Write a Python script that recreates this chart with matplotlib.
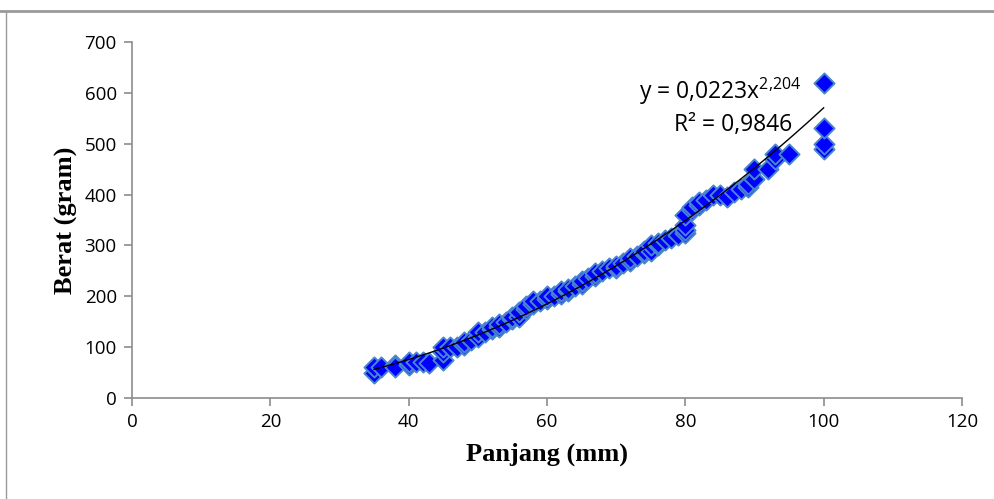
import numpy as np
import matplotlib.pyplot as plt
from matplotlib.lines import Line2D

plt.rcParams['mathtext.fontset'] = 'custom'
plt.rcParams['mathtext.rm'] = 'Open Sans'

# data (panjang mm, berat gram)
panjang = [35, 35, 36, 38, 38, 40, 40, 41, 42, 43, 45, 45, 45, 46, 47, 48, 48, 49,
           50, 50, 51, 52, 52, 53, 53, 54, 55, 55, 56, 56, 57, 57, 58, 58, 59,
           60, 60, 61, 62, 62, 63, 63, 64, 65, 65, 66, 67, 67, 68, 69, 70, 70,
           71, 72, 72, 73, 74, 74, 75, 75, 76, 76, 77, 78, 79, 80, 80, 80, 80,
           81, 81, 82, 82, 83, 84, 85, 86, 87, 88, 89, 89, 90, 90, 92, 93, 93,
           95, 100, 100, 100, 100]
berat = [50, 60, 60, 65, 60, 65, 70, 70, 70, 68, 75, 90, 100, 100, 100, 105, 110, 115,
         120, 130, 130, 135, 140, 140, 145, 150, 155, 160, 160, 170, 175, 180, 185, 190, 190,
         195, 200, 200, 205, 210, 210, 215, 220, 225, 230, 235, 240, 245, 250, 255, 255, 260,
         265, 270, 275, 280, 285, 290, 290, 300, 300, 305, 310, 315, 320, 325, 330, 340, 360,
         370, 375, 380, 385, 390, 400, 400, 395, 405, 410, 415, 420, 430, 450, 450, 470, 480,
         480, 490, 500, 530, 620]

# power trendline as printed on the chart
coef_a = 0.0223
coef_b = 2.204
r2_text = 'R² = 0,9846'
eq_text = r'y = 0,0223x$^{\mathrm{2{,}204}}$'

fig = plt.figure(figsize=(9.95, 4.99), dpi=100)
ax = fig.add_axes([0.1327, 0.2024, 0.8341, 0.7134])

ax.scatter(panjang, berat, marker='D', s=105, facecolor='#0000ff',
           edgecolor='#4a86d0', linewidths=1.4, zorder=3)

xs = np.linspace(min(panjang), max(panjang), 200)
ax.plot(xs, coef_a * xs ** coef_b, color='black', lw=1, zorder=4)

ax.set_xlim(0, 120)
ax.set_ylim(0, 700)
ax.set_xticks(range(0, 121, 20))
ax.set_yticks(range(0, 701, 100))

for s in ['top', 'right']:
    ax.spines[s].set_visible(False)
for s in ['left', 'bottom']:
    ax.spines[s].set_color('#8c8c8c')
    ax.spines[s].set_linewidth(1.2)
ax.tick_params(direction='out', length=6, color='#8c8c8c', width=1.2,
               labelsize=13.5, pad=5)
for lab in ax.get_xticklabels() + ax.get_yticklabels():
    lab.set_fontfamily('Open Sans')

ax.set_xlabel('Panjang (mm)', fontsize=19, fontweight='bold',
              fontfamily='Liberation Serif', labelpad=8)
ax.set_ylabel('Berat (gram)', fontsize=19, fontweight='bold',
              fontfamily='Liberation Serif', labelpad=5)

ax.text(0.724, 0.816, eq_text, transform=fig.transFigure, fontsize=16.5,
        fontfamily='Open Sans', ha='center', va='center')
ax.text(0.737, 0.749, r2_text, transform=fig.transFigure, fontsize=16.5,
        fontfamily='Open Sans', ha='center', va='center')

# window frame lines
fig.add_artist(Line2D([0, 1], [1 - 11 / 499, 1 - 11 / 499], color='#9a9a9a', lw=2,
                      transform=fig.transFigure))
fig.add_artist(Line2D([6 / 995, 6 / 995], [0, 1 - 12 / 499], color='#9a9a9a', lw=1,
                      transform=fig.transFigure))

fig.savefig('out.png', dpi=100)
